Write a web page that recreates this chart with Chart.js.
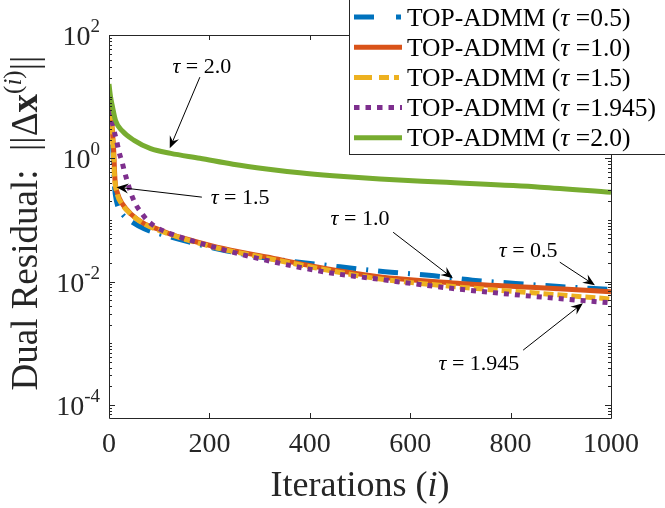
<!DOCTYPE html>
<html>
<head>
<meta charset="utf-8">
<script src="https://cdn.jsdelivr.net/npm/chart.js@4/dist/chart.umd.min.js"></script>
<style>
html, body { margin: 0; padding: 0; background: #fff; }
canvas { display: block; }
</style>
</head>
<body>
<canvas id="Chart" width="665" height="508"></canvas>
<script>
// values
const TAUS = ['0.5', '1.0', '1.5', '1.945', '2.0'];
const COLORS = ['#0072BD', '#D95319', '#EDB120', '#7E2F8E', '#77AC30'];

const itBlue = [0, 3, 8, 11, 15, 25, 40, 70, 115, 208, 300, 460, 550, 637, 724, 810, 897, 1000];
const resBlue = [8, 5, 1.2, 0.35, 0.2, 0.13, 0.10, 0.072, 0.055, 0.035, 0.025, 0.0173, 0.0144, 0.0126, 0.0105, 0.0093, 0.0083, 0.0074];

const itOrange = [0, 3, 9, 12, 17, 27, 43, 70, 103, 129, 150, 215, 314, 414, 533, 685, 850, 1000];
const resOrange = [9, 6.0, 1.5, 0.44, 0.27, 0.18, 0.126, 0.087, 0.068, 0.056, 0.050, 0.036, 0.025, 0.0173, 0.0121, 0.0095, 0.0080, 0.0068];

const itYellow = [0, 3, 8, 11, 16, 26, 43, 70, 103, 150, 215, 314, 414, 533, 685, 850, 1000];
const resYellow = [10, 6.0, 1.6, 0.5, 0.27, 0.18, 0.125, 0.086, 0.066, 0.049, 0.035, 0.024, 0.0165, 0.0112, 0.0083, 0.0065, 0.0052];

const itPurple = [0, 2, 6, 10, 15, 20, 26, 31, 37, 43, 53, 63, 76, 93, 113, 181, 314, 446, 526, 685, 850, 1000];
const resPurple = [9, 5.5, 4.0, 2.8, 1.95, 1.26, 0.87, 0.60, 0.41, 0.28, 0.18, 0.135, 0.099, 0.077, 0.064, 0.042, 0.022, 0.0136, 0.0112, 0.0077, 0.0057, 0.0045];

const itGreen = [0, 3, 7, 13, 26, 50, 83, 123, 181, 247, 314, 380, 446, 540, 659, 859, 1000];
const resGreen = [16, 10, 6.8, 4.1, 2.8, 1.95, 1.43, 1.2, 1.0, 0.80, 0.67, 0.58, 0.52, 0.46, 0.41, 0.34, 0.28];

const xTicks = [0, 200, 400, 600, 800, 1000];
const yTickExps = [-4, -2, 0, 2];

// arrows: [tau label, text centre, arrow tail, arrow tip] in data units (iteration, residual)
const NOTES = [
    ['2.0', [185, 31], [181, 20.7], [121, 1.45]],
    ['1.5', [261, 0.232], [185, 0.234], [15, 0.34]],
    ['1.0', [500, 0.106], [566, 0.063], [685, 0.0113]],
    ['0.5', [835, 0.032], [898, 0.0206], [968, 0.0087]],
    ['1.945', [737, 4.74e-4], [825, 7.7e-4], [944, 0.00445]]
];

const SERIF = '"Liberation Serif", "Times New Roman", serif';
const DASHES = [[20, 10, 2, 10], [], [10, 4], [5, 6], []];

const pts = (xs, ys) => xs.map((x, i) => ({ x: x, y: ys[i] }));
const series = [pts(itBlue, resBlue), pts(itOrange, resOrange), pts(itYellow, resYellow),
                pts(itPurple, resPurple), pts(itGreen, resGreen)];

// draw a run of text pieces with different fonts, returns total width
const drawRuns = (ctx, runs, x, y, align) => {
    let w = 0;
    runs.forEach(r => { ctx.font = r.f; r.w = ctx.measureText(r.t).width; w += r.w; });
    let cx = align === 'center' ? x - w / 2 : align === 'right' ? x - w : x;
    runs.forEach(r => { ctx.font = r.f; ctx.fillText(r.t, cx, y + (r.dy || 0)); cx += r.w; });
    return w;
};

const f = (size, style) => `${style || ''} ${size}px ${SERIF}`;

const axesPlugin = {
    id: 'matlabAxes',
    afterDatasetsDraw(chart) {
        const { ctx, chartArea: a, scales: { x, y } } = chart;
        ctx.save();
        ctx.strokeStyle = '#262626';
        ctx.lineWidth = 1;
        ctx.beginPath();
        ctx.rect(Math.round(a.left) + 0.5, Math.round(a.top) + 0.5,
                 Math.round(a.right - a.left), Math.round(a.bottom - a.top));
        // x ticks, inward on bottom and top
        xTicks.forEach(v => {
            const px = Math.round(x.getPixelForValue(v)) + 0.5;
            ctx.moveTo(px, a.bottom); ctx.lineTo(px, a.bottom - 5);
            ctx.moveTo(px, a.top); ctx.lineTo(px, a.top + 5);
        });
        // y ticks, majors at labelled decades, minors elsewhere
        for (let e = -5; e <= 2; e++) {
            for (let k = 1; k <= 9; k++) {
                const v = k * Math.pow(10, e);
                if (v < y.min || v > y.max) continue;
                const major = k === 1 && yTickExps.includes(e);
                const len = major ? 6 : 3;
                const py = Math.round(y.getPixelForValue(v)) + 0.5;
                ctx.moveTo(a.left, py); ctx.lineTo(a.left + len, py);
                ctx.moveTo(a.right, py); ctx.lineTo(a.right - len, py);
            }
        }
        ctx.stroke();

        ctx.fillStyle = '#262626';
        ctx.textBaseline = 'alphabetic';
        xTicks.forEach(v => {
            drawRuns(ctx, [{ t: String(v), f: f(28) }], x.getPixelForValue(v), a.bottom + 34, 'center');
        });
        yTickExps.forEach(e => {
            const py = y.getPixelForValue(Math.pow(10, e));
            drawRuns(ctx, [{ t: '10', f: f(28) }, { t: e < 0 ? '-' + (-e) : String(e), f: f(19), dy: -13 }],
                     a.left - 9, py + 10, 'right');
        });

        // axis titles
        drawRuns(ctx, [{ t: 'Iterations (', f: f(36) }, { t: 'i', f: f(36, 'italic') }, { t: ')', f: f(36) }],
                 (a.left + a.right) / 2, 496, 'center');
        ctx.save();
        ctx.translate(37, 223);
        ctx.rotate(-Math.PI / 2);
        drawRuns(ctx, [
            { t: 'Dual Residual:  ', f: f(37) },
            { t: '||', f: f(37) },
            { t: '\u0394', f: f(37) },
            { t: 'x', f: f(37, 'bold') },
            { t: '(', f: f(25), dy: -16 },
            { t: 'i', f: f(25, 'italic'), dy: -16 },
            { t: ')', f: f(25), dy: -16 },
            { t: '||', f: f(37) }
        ], 0, 0, 'center');
        ctx.restore();
        ctx.restore();
    },
    afterDraw(chart) {
        const { ctx, scales: { x, y } } = chart;
        ctx.save();
        // annotations with arrows
        ctx.fillStyle = '#000';
        ctx.strokeStyle = '#000';
        NOTES.forEach(([tau, tc, tail, tip]) => {
            const tx = x.getPixelForValue(tc[0]), ty = y.getPixelForValue(tc[1]);
            drawRuns(ctx, [{ t: '\u03C4', f: f(22, 'italic') }, { t: ' = ' + tau, f: f(22) }], tx, ty + 7, 'center');
            const x0 = x.getPixelForValue(tail[0]), y0 = y.getPixelForValue(tail[1]);
            const x1 = x.getPixelForValue(tip[0]), y1 = y.getPixelForValue(tip[1]);
            const len = Math.hypot(x1 - x0, y1 - y0);
            const ux = (x1 - x0) / len, uy = (y1 - y0) / len;
            const nx = -uy, ny = ux;
            const L = 12, W = 5;
            ctx.lineWidth = 1;
            ctx.beginPath();
            ctx.moveTo(x0, y0);
            ctx.lineTo(x1 - ux * L * 0.6, y1 - uy * L * 0.6);
            ctx.stroke();
            ctx.beginPath();
            ctx.moveTo(x1, y1);
            ctx.lineTo(x1 - ux * L + nx * W, y1 - uy * L + ny * W);
            ctx.lineTo(x1 - ux * L * 0.65, y1 - uy * L * 0.65);
            ctx.lineTo(x1 - ux * L - nx * W, y1 - uy * L - ny * W);
            ctx.closePath();
            ctx.fill();
        });

        // legend box
        const bx = 349.5, by = -1, bw = 330, bh = 155.5;
        ctx.fillStyle = '#fff';
        ctx.fillRect(bx, by, bw, bh);
        ctx.strokeStyle = '#262626';
        ctx.lineWidth = 1;
        ctx.strokeRect(bx, by, bw, bh);
        const legendDash = [[20, 22, 5, 60], [], [18, 7, 10, 5, 5, 40], [5.5, 6], []];
        TAUS.forEach((tau, i) => {
            const ry = 17 + i * 30.2;
            ctx.strokeStyle = COLORS[i];
            ctx.lineWidth = 5;
            ctx.lineCap = 'butt';
            ctx.setLineDash(legendDash[i]);
            ctx.beginPath();
            ctx.moveTo(354, ry); ctx.lineTo(402, ry);
            ctx.stroke();
            ctx.setLineDash([]);
            ctx.fillStyle = '#000';
            drawRuns(ctx, [
                { t: 'TOP-ADMM (', f: f(25.5) },
                { t: '\u03C4', f: f(25.5, 'italic') },
                { t: ' =' + tau + ')', f: f(25.5) }
            ], 407, ry + 8.5, 'left');
        });
        ctx.restore();
    }
};

const config = {
    type: 'line',
    data: {
        datasets: series.map((d, i) => ({
            label: 'TOP-ADMM (\u03C4 =' + TAUS[i] + ')',
            data: d,
            borderColor: COLORS[i],
            backgroundColor: COLORS[i],
            borderWidth: 5,
            borderDash: DASHES[i],
            borderCapStyle: 'butt',
            pointRadius: 0,
            cubicInterpolationMode: 'monotone',
            order: 5 - i
        }))
    },
    options: {
        responsive: false,
        animation: false,
        layout: { padding: { left: 109, top: 35, right: 54, bottom: 90 } },
        scales: {
            x: { type: 'linear', min: 0, max: 1000, display: false },
            y: { type: 'logarithmic', min: 6.1e-5, max: 100, display: false }
        },
        plugins: {
            legend: { display: false },
            tooltip: { enabled: false }
        }
    },
    plugins: [axesPlugin]
};

const myChart = new Chart(document.getElementById('Chart'), config);
</script>
</body>
</html>
